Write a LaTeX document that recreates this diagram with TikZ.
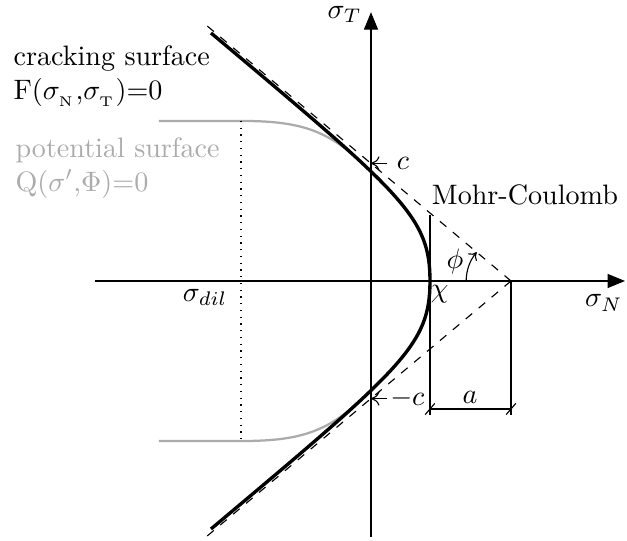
\documentclass[tikz,border=0pt]{standalone}
\usetikzlibrary{
  arrows.meta,
  calc
}

\begin{document}
\begin{tikzpicture}[
  axis/.style={-{Triangle[length=6.2pt,width=5pt]}},
  mcline/.style={dashed},
  crack/.style={very thick},
  potential/.style={thick, black!33},
  marker/.style={-{To[length=3pt,width=5pt]}},
  tag/.style={inner sep=0pt}
]

\useasboundingbox (-4.6375,-3.25) rectangle (3.2,3.5125);

% ==================== POINTS ====================
\coordinate (O) at (0,0);
\coordinate (apex) at (1.75,0);
\coordinate (chi) at (0.7375,0);
\coordinate (cTop) at (0,1.47);
\coordinate (cBot) at (0,-1.47);
\coordinate (mcTop) at (-2.05,3.19);
\coordinate (mcBot) at (-2.05,-3.19);
\coordinate (xLeft) at (-3.45,0);
\coordinate (xRight) at (3.175,0);
\coordinate (yBot) at (0,-3.2);
\coordinate (yTop) at (0,3.36);
\coordinate (dilTop) at (-1.625,2.0);
\coordinate (dilBot) at (-1.625,-2.0);
\coordinate (chiTop) at (0.7375,0.825);
\coordinate (chiBot) at (0.7375,-1.675);
\coordinate (apexBot) at (1.75,-1.675);
\coordinate (dimL) at (0.7375,-1.6);
\coordinate (dimR) at (1.75,-1.6);

% ==================== AXES ====================
\draw[axis] (xLeft) -- (xRight);
\draw[axis] (yBot) -- (yTop);
\node (sigN) at (2.91,-0.275) {$\sigma_N$};
\node (sigT) at (-0.33,3.33) {$\sigma_T$};

% ==================== POTENTIAL SURFACE ====================
\draw[potential] (-2.65,2.0) -- (-1.6,2.0)
  .. controls (-0.9,2.0) and (-0.564,1.883) .. (-0.164,1.523);
\draw[potential] (-2.65,-2.0) -- (-1.6,-2.0)
  .. controls (-0.9,-2.0) and (-0.564,-1.883) .. (-0.164,-1.523);
\draw[dotted] (dilTop) -- (dilBot);
\node (dil) at (-2.075,-0.21) {$\sigma_{dil}$};

% ==================== MOHR-COULOMB ====================
\draw[mcline] (apex) -- (mcTop);
\draw[mcline] (apex) -- (mcBot);
\draw[marker] ([xshift=0.2cm]cTop) -- (cTop);
\draw[marker] ([xshift=0.2cm]cBot) -- (cBot);
\node[anchor=west] (cLbl) at ([xshift=0.2cm]cTop) {$c$};
\node[anchor=west, inner sep=1pt] (mcLbl) at ([xshift=0.2cm]cBot) {$-c$};
\draw[-{To[length=2.5pt,width=4pt]}] ([shift={(180:0.56)}]apex) arc (180:140:0.56);
\node (phi) at (1.05,0.24) {$\phi$};
\node (mohr) at (1.925,1.075) {Mohr-Coulomb};

% ==================== CRACKING SURFACE ====================
\draw[crack] (-2.0,3.1) .. controls (0.4,1.084) and (0.7375,0.8) .. (chi)
  .. controls (0.7375,-0.8) and (0.4,-1.084) .. (-2.0,-3.1);
\node (chiLbl) at (0.86,-0.16) {$\chi$};

% ==================== DIMENSION a ====================
\draw (chiTop) -- (chiBot);
\draw (apex) -- (apexBot);
\draw (dimL) -- (dimR);
\foreach \p in {dimL,dimR}
  \draw (\p) ++(-0.06,-0.07) -- ++(0.12,0.14);
\node (aLbl) at (1.2375,-1.45) {$a$};

% ==================== LABELS ====================
\node[tag, anchor=north west, align=left] (crackTxt) at (-4.475,2.95)
  {cracking surface\\F($\sigma_{_{\rm N}}$,$\sigma_{_{\rm T}}$)=0};
\node[tag, anchor=north west, align=left, text=black!33] (potTxt) at (-4.45,1.8)
  {potential surface\\Q($\sigma'$,$\Phi$)=0};

\end{tikzpicture}
\end{document}
